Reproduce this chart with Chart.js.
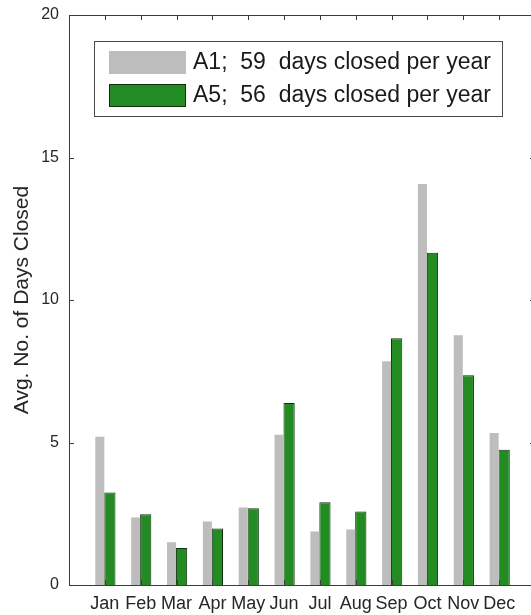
<!DOCTYPE html>
<html>
<head>
<meta charset="utf-8">
<script src="https://cdn.jsdelivr.net/npm/chart.js@4/dist/chart.umd.min.js"></script>
<style>
    html, body { margin: 0; padding: 0; background: #fff; overflow: hidden; }
    #wrap { width: 543px; height: 615px; }
</style>
</head>
<body>
<div id="wrap"><canvas id="closedChart" width="543" height="615"></canvas></div>
<script>
// Données
const months = ['Jan', 'Feb', 'Mar', 'Apr', 'May', 'Jun', 'Jul', 'Aug', 'Sep', 'Oct', 'Nov', 'Dec'];
const a1Days = [5.2, 2.37, 1.5, 2.23, 2.72, 5.27, 1.88, 1.95, 7.85, 14.07, 8.76, 5.33];
const a5Days = [3.25, 2.48, 1.3, 1.98, 2.69, 6.39, 2.9, 2.58, 8.66, 11.66, 7.36, 4.75];
const seriesLabels = ['A1;  59  days closed per year', 'A5;  56  days closed per year'];
const yTicks = [0, 5, 10, 15, 20];

const FONT = "'Liberation Sans', Arial, sans-serif";
const AXIS_COLOR = '#3c3c3c';

/**
 * Cadre, petits traits de graduation vers l'intérieur et légende encadrée
 */
const boxAndLegend = {
    id: 'boxAndLegend',
    afterDraw(chart) {
        const { ctx, chartArea: a, scales } = chart;
        ctx.save();
        ctx.strokeStyle = AXIS_COLOR;
        ctx.lineWidth = 1;
        ctx.strokeRect(a.left + 0.5, a.top + 0.5, a.right - a.left, a.bottom - a.top);

        const len = 5;
        ctx.beginPath();
        yTicks.forEach(v => {
            const y = Math.round(scales.y.getPixelForValue(v)) + 0.5;
            ctx.moveTo(a.left, y); ctx.lineTo(a.left + len, y);
            ctx.moveTo(a.right, y); ctx.lineTo(a.right - len, y);
        });
        months.forEach((m, i) => {
            const x = Math.round(scales.x.getPixelForValue(i + 1)) + 0.5;
            ctx.moveTo(x, a.top); ctx.lineTo(x, a.top + len);
            ctx.moveTo(x, a.bottom); ctx.lineTo(x, a.bottom - len);
        });
        ctx.stroke();

        // légende
        const bx = a.left + 25, by = a.top + 26, bw = 408, bh = 75;
        ctx.fillStyle = '#fff';
        ctx.fillRect(bx, by, bw, bh);
        ctx.strokeStyle = '#4a4a4a';
        ctx.strokeRect(bx + 0.5, by + 0.5, bw, bh);
        ctx.font = '23px ' + FONT;
        ctx.textBaseline = 'middle';
        chart.data.datasets.forEach((ds, i) => {
            const sy = by + 10 + i * 33;
            ctx.fillStyle = ds.backgroundColor;
            ctx.fillRect(bx + 15, sy, 77, 23);
            if (ds.borderWidth) {
                ctx.strokeStyle = ds.borderColor;
                ctx.strokeRect(bx + 15.5, sy + 0.5, 76, 22);
            }
            ctx.fillStyle = '#1a1a1a';
            ctx.fillText(ds.label, bx + 99, sy + 12);
        });
        ctx.restore();
    }
};

function initClosedChart() {
    const cv = document.getElementById('closedChart');
    if (!cv) return;

    new Chart(cv.getContext('2d'), {
        type: 'bar',
        data: {
            datasets: [{
                label: seriesLabels[0],
                data: a1Days.map((v, i) => ({ x: i + 1, y: v })),
                backgroundColor: '#bdbdbd',
                borderWidth: 0,
                barPercentage: 0.9
            }, {
                label: seriesLabels[1],
                data: a5Days.map((v, i) => ({ x: i + 1, y: v })),
                backgroundColor: '#228b22',
                borderColor: '#0f2f0f',
                borderWidth: 1,
                barPercentage: 1.12
            }]
        },
        options: {
            responsive: false,
            animation: false,
            devicePixelRatio: 1,
            layout: { padding: { top: 15, right: 2, left: 0, bottom: 0 } },
            datasets: { bar: { categoryPercentage: 0.56 } },
            plugins: {
                legend: { display: false },
                tooltip: { enabled: false }
            },
            scales: {
                x: {
                    type: 'linear',
                    offset: false,
                    min: 0,
                    max: 13,
                    grid: { display: false, drawTicks: false },
                    border: { display: false },
                    afterFit: s => { s.height = 30; },
                    ticks: {
                        stepSize: 1,
                        autoSkip: false,
                        maxRotation: 0,
                        padding: 8,
                        color: '#262626',
                        font: { family: FONT, size: 18 },
                        callback: v => months[v - 1] || ''
                    }
                },
                y: {
                    min: 0,
                    max: 20,
                    grid: { display: false, drawTicks: false },
                    border: { display: false },
                    afterFit: s => {
                        s.width = 69;
                        s.paddingTop = 0;
                        s.paddingBottom = 0;
                    },
                    ticks: {
                        stepSize: 5,
                        padding: 10,
                        color: '#262626',
                        font: { family: FONT, size: 16 }
                    },
                    title: {
                        display: true,
                        text: 'Avg. No. of Days Closed',
                        color: '#262626',
                        font: { family: FONT, size: 21 },
                        padding: { top: 10, bottom: 0 }
                    }
                }
            }
        },
        plugins: [boxAndLegend]
    });
}

initClosedChart();
</script>
</body>
</html>
